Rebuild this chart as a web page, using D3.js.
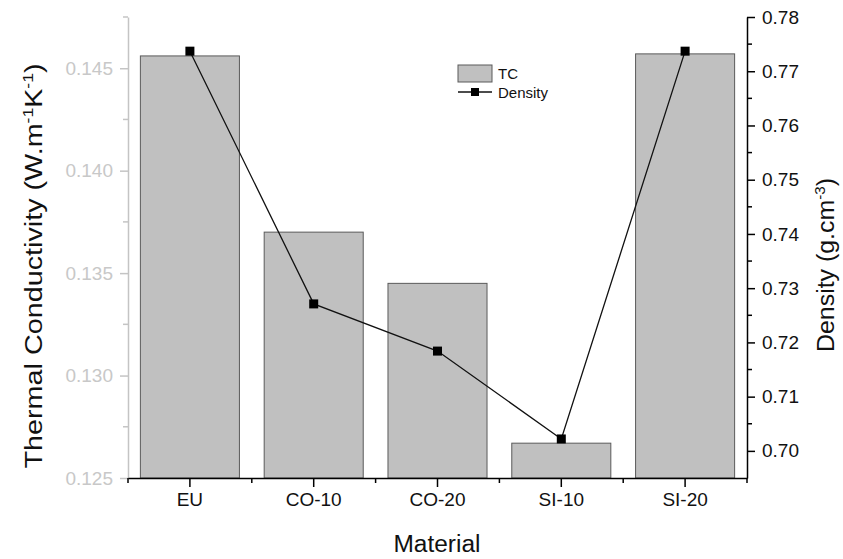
<!DOCTYPE html>
<html>
<head>
<meta charset="utf-8">
<script src="https://cdn.jsdelivr.net/npm/d3@7"></script>
<style>
  body { margin: 0; background: #fff; }
  svg { font-family: "Liberation Sans", Arial, sans-serif; }
</style>
</head>
<body>
<div id="chart"></div>
<script>
const materials = ["EU", "CO-10", "CO-20", "SI-10", "SI-20"];
const tcValues = [0.1456, 0.1370, 0.1345, 0.1267, 0.1457];
const densityValues = [0.7737, 0.7271, 0.7184, 0.7022, 0.7737];
const tcTicks = [0.125, 0.130, 0.135, 0.140, 0.145];
const densityTicks = [0.70, 0.71, 0.72, 0.73, 0.74, 0.75, 0.76, 0.77, 0.78];

const width = 843;
const height = 559;
const margin = { top: 17, right: 96, bottom: 81, left: 128 };
const innerW = width - margin.left - margin.right;
const innerH = height - margin.top - margin.bottom;

const svg = d3.select("#chart")
  .append("svg")
  .attr("width", width)
  .attr("height", height);

const g = svg.append("g")
  .attr("transform", `translate(${margin.left},${margin.top})`);

const x = d3.scaleBand()
  .domain(materials)
  .range([0, innerW])
  .paddingInner(0.2)
  .paddingOuter(0.1);

const yTC = d3.scaleLinear().domain([0.125, 0.1475]).range([innerH, 0]);
const yD = d3.scaleLinear().domain([0.695, 0.78]).range([innerH, 0]);

// bars
g.selectAll("rect.bar")
  .data(materials)
  .join("rect")
  .attr("class", "bar")
  .attr("x", (d) => x(d))
  .attr("y", (d, i) => yTC(tcValues[i]))
  .attr("width", x.bandwidth())
  .attr("height", (d, i) => innerH - yTC(tcValues[i]))
  .attr("fill", "#c0c0c0")
  .attr("stroke", "#5a5a5a")
  .attr("stroke-width", 1);

// density line + markers
const cx = (d) => x(d) + x.bandwidth() / 2;
const line = d3.line()
  .x((d, i) => cx(materials[i]))
  .y((d) => yD(d));

g.append("path")
  .datum(densityValues)
  .attr("d", line)
  .attr("fill", "none")
  .attr("stroke", "#111")
  .attr("stroke-width", 1.3);

g.selectAll("rect.pt")
  .data(densityValues)
  .join("rect")
  .attr("class", "pt")
  .attr("x", (d, i) => cx(materials[i]) - 4.5)
  .attr("y", (d) => yD(d) - 4.5)
  .attr("width", 9)
  .attr("height", 9)
  .attr("fill", "#000");

// left axis (grey)
const leftAxis = g.append("g")
  .call(d3.axisLeft(yTC).tickValues(tcTicks).tickFormat(d3.format(".3f")).tickSize(8).tickSizeOuter(0));
leftAxis.select(".domain").attr("stroke", "#c4c4c4").attr("stroke-width", 1.5);
leftAxis.selectAll(".tick line").attr("stroke", "#c4c4c4").attr("stroke-width", 1.5);
leftAxis.selectAll(".tick text")
  .attr("fill", "#c8c8c8")
  .attr("font-size", 19)
  .attr("x", -15);
g.append("g")
  .selectAll("line")
  .data([0.1275, 0.1325, 0.1375, 0.1425, 0.1475])
  .join("line")
  .attr("x1", -5).attr("x2", 0)
  .attr("y1", (d) => yTC(d)).attr("y2", (d) => yTC(d))
  .attr("stroke", "#c4c4c4").attr("stroke-width", 1.5);

// right axis
const rightAxis = g.append("g")
  .attr("transform", `translate(${innerW},0)`)
  .call(d3.axisRight(yD).tickValues(densityTicks).tickFormat(d3.format(".2f")).tickSize(8).tickSizeOuter(0));
rightAxis.select(".domain").attr("stroke", "#000").attr("stroke-width", 1.5);
rightAxis.selectAll(".tick line").attr("stroke", "#000").attr("stroke-width", 1.5);
rightAxis.selectAll(".tick text")
  .attr("fill", "#111")
  .attr("font-size", 19)
  .attr("x", 15);
g.append("g")
  .selectAll("line")
  .data([0.705, 0.715, 0.725, 0.735, 0.745, 0.755, 0.765, 0.775])
  .join("line")
  .attr("x1", innerW).attr("x2", innerW + 5)
  .attr("y1", (d) => yD(d)).attr("y2", (d) => yD(d))
  .attr("stroke", "#000").attr("stroke-width", 1.5);

// x axis
const xAxis = g.append("g")
  .attr("transform", `translate(0,${innerH})`)
  .call(d3.axisBottom(x).tickSize(9).tickSizeOuter(0));
xAxis.select(".domain").attr("stroke", "#000").attr("stroke-width", 1.5);
xAxis.selectAll(".tick line").attr("stroke", "#000").attr("stroke-width", 1.5);
xAxis.selectAll(".tick text")
  .attr("fill", "#111")
  .attr("font-size", 19)
  .attr("y", 15);
const step = x.step();
const minorX = d3.range(1, materials.length).map((i) => x(materials[i]) - (step - x.bandwidth()) / 2);
g.append("g")
  .selectAll("line")
  .data([0, ...minorX, innerW])
  .join("line")
  .attr("x1", (d) => d).attr("x2", (d) => d)
  .attr("y1", innerH).attr("y2", innerH + 5)
  .attr("stroke", "#000").attr("stroke-width", 1.5);

// axis titles
svg.append("text")
  .attr("x", 437)
  .attr("y", 552)
  .attr("text-anchor", "middle")
  .attr("font-size", 23)
  .attr("textLength", 87)
  .attr("lengthAdjust", "spacingAndGlyphs")
  .attr("fill", "#111")
  .text("Material");

const leftTitle = svg.append("text")
  .attr("transform", "translate(42,266) rotate(-90)")
  .attr("text-anchor", "middle")
  .attr("font-size", 23)
  .attr("textLength", 405)
  .attr("lengthAdjust", "spacingAndGlyphs")
  .attr("fill", "#111");
leftTitle.append("tspan").text("Thermal Conductivity (W.m");
leftTitle.append("tspan").attr("font-size", 14).attr("dy", -9).text("-1");
leftTitle.append("tspan").attr("dy", 9).text("K");
leftTitle.append("tspan").attr("font-size", 14).attr("dy", -9).text("-1");
leftTitle.append("tspan").attr("dy", 9).text(")");

const rightTitle = svg.append("text")
  .attr("transform", "translate(834,265) rotate(-90)")
  .attr("text-anchor", "middle")
  .attr("font-size", 23)
  .attr("textLength", 174)
  .attr("lengthAdjust", "spacingAndGlyphs")
  .attr("fill", "#111");
rightTitle.append("tspan").text("Density (g.cm");
rightTitle.append("tspan").attr("font-size", 14).attr("dy", -9).text("-3");
rightTitle.append("tspan").attr("dy", 9).text(")");

// legend
const legend = svg.append("g").attr("transform", "translate(458,65)");
legend.append("rect")
  .attr("x", 0).attr("y", 0)
  .attr("width", 34).attr("height", 17)
  .attr("fill", "#c0c0c0").attr("stroke", "#5a5a5a");
legend.append("text")
  .attr("x", 40).attr("y", 14)
  .attr("font-size", 15).attr("fill", "#111")
  .text("TC");
legend.append("line")
  .attr("x1", 0).attr("x2", 34).attr("y1", 27).attr("y2", 27)
  .attr("stroke", "#111").attr("stroke-width", 1.3);
legend.append("rect")
  .attr("x", 13).attr("y", 23).attr("width", 8).attr("height", 8)
  .attr("fill", "#000");
legend.append("text")
  .attr("x", 40).attr("y", 33)
  .attr("font-size", 15).attr("fill", "#111")
  .text("Density");
</script>
</body>
</html>
